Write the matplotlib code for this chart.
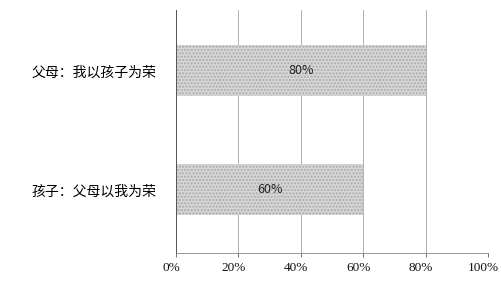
import matplotlib.pyplot as plt
import matplotlib.transforms as mtransforms

plt.rcParams['font.family'] = ['Noto Sans CJK SC', 'DejaVu Sans']

categories = ['孩子：父母以我为荣', '父母：我以孩子为荣']
values = [60, 80]
ticks = [0, 20, 40, 60, 80, 100]
tick_labels = ['0%', '20%', '40%', '60%', '80%', '100%']

fig = plt.figure(figsize=(5.02, 2.81), dpi=100)
ax = fig.add_axes([0.3506, 0.0996, 0.6215, 0.8648])

bars = ax.barh(range(len(values)), values, height=0.43, color='#d6d6d6',
               edgecolor='#aaaaaa', linewidth=0, hatch='.....', zorder=2)
for i, v in enumerate(values):
    ax.text(v / 2, i, f'{v}%', ha='center', va='center', fontsize=9, color='#222222', zorder=3)

ax.set_xlim(0, 100)
ax.set_ylim(-0.53, 1.51)
ax.set_xticks(ticks)
ax.set_xticklabels([])
# x labels sit a bit left of their ticks in the original
shift = mtransforms.ScaledTranslation(-5 / 100, -9 / 100, fig.dpi_scale_trans)
trans = ax.get_xaxis_transform() + shift
for t, lab in zip(ticks, tick_labels):
    ax.text(t, 0, lab, transform=trans, ha='center', va='top', fontsize=9.5,
            family=['Liberation Serif', 'DejaVu Serif'], color='#111111')
ax.set_yticks(range(len(categories)))
ax.set_yticklabels(categories, fontsize=10)
ax.tick_params(axis='y', length=0, pad=14)
ax.tick_params(axis='x', length=3, width=0.6, color='#555555')

ax.grid(axis='x', color='#a5a5a5', linewidth=0.6, zorder=1)
for s in ['top', 'right']:
    ax.spines[s].set_visible(False)
ax.spines['left'].set_color('#555555')
ax.spines['left'].set_linewidth(0.7)
ax.spines['bottom'].set_color('#888888')
ax.spines['bottom'].set_linewidth(0.6)

fig.savefig('out.png', dpi=100)
